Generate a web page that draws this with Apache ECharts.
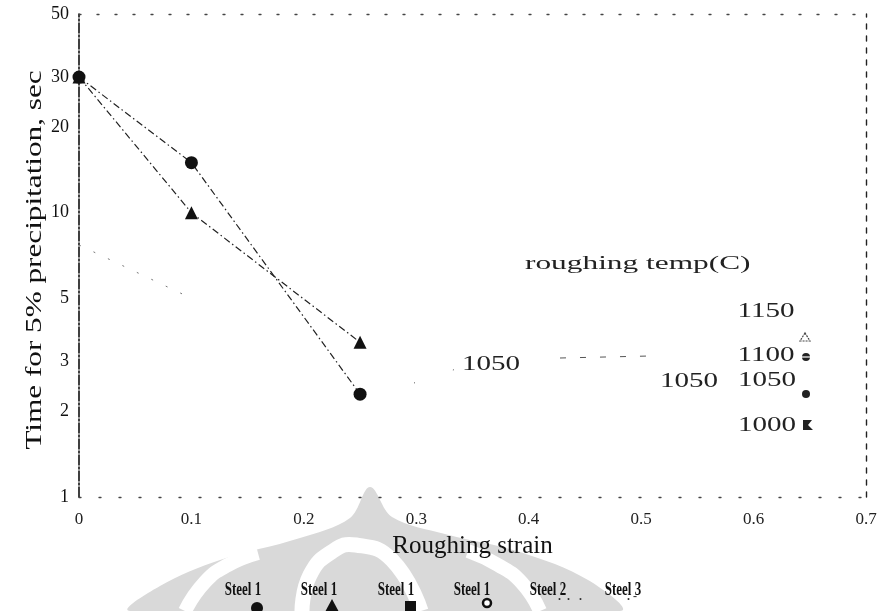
<!DOCTYPE html>
<html>
<head>
<meta charset="utf-8">
<script src="https://cdn.jsdelivr.net/npm/echarts@6/dist/echarts.min.js"></script>
<style>
html,body{margin:0;padding:0;background:#fff;}
#chart{width:882px;height:611px;}
</style>
</head>
<body>
<div id="chart"></div>
<script>
// ---- data ----
var xTicks = [0, 0.1, 0.2, 0.3, 0.4, 0.5, 0.6, 0.7];
var yTicks = [1, 2, 3, 5, 10, 20, 30, 50];
var strain = [0, 0.1, 0.25];
var circleTimes = [30, 15, 2.3];     // Steel 1, filled circle
var triangleTimes = [30, 10, 3.5];   // Steel 1, filled triangle
var faintStrain = [0, 0.1];
var faintTimes = [7.7, 5];
var legendNames = ['Steel 1', 'Steel 1', 'Steel 1', 'Steel 1', 'Steel 2', 'Steel 3'];
var yTitle = 'Time for 5% precipitation, sec';
var xTitle = 'Roughing strain';
var tempTitle = 'roughing temp(C)';
var tempLabels = ['1150', '1100', '1050', '1000'];

function pairs(xs, ys) { return xs.map(function (x, i) { return [x, ys[i]]; }); }

var FONT = '"Liberation Serif", "DejaVu Serif", serif';
var chart = echarts.init(document.getElementById('chart'));

var dashDot = [7, 3, 1.5, 3];

var legendX = [243, 319, 396, 472, 548, 623];
var graphics = [];

// watermark (light grey background logo)
graphics.push({
  type: 'polygon', z: -100, silent: true,
  shape: { smooth: 0.35, points: [[370, 487], [350, 518], [300, 538], [220, 560], [160, 586], [130, 611], [620, 611], [588, 580], [520, 552], [445, 534], [392, 517]] },
  style: { fill: '#d9d9d9' }
});
graphics.push({
  type: 'polyline', z: -99, silent: true,
  shape: { smooth: 0.5, points: [[302, 611], [310, 575], [333, 551], [356, 545], [392, 560], [421, 611]] },
  style: { fill: 'none', stroke: '#ffffff', lineWidth: 15 }
});
graphics.push({
  type: 'polyline', z: -99, silent: true,
  shape: { smooth: 0.5, points: [[185, 611], [205, 582], [228, 565], [258, 553]] },
  style: { fill: 'none', stroke: '#ffffff', lineWidth: 14 }
});
graphics.push({
  type: 'polyline', z: -99, silent: true,
  shape: { smooth: 0.5, points: [[540, 611], [522, 583], [498, 565], [468, 551]] },
  style: { fill: 'none', stroke: '#ffffff', lineWidth: 14 }
});

// y-axis title (stretched like the scanned original)
graphics.push({
  type: 'text', z: 10, x: 35, y: 260, rotation: Math.PI / 2, scaleX: 1.3,
  style: { text: yTitle, font: '24px ' + FONT, fill: '#111', align: 'center', verticalAlign: 'middle' }
});

// bottom legend texts
legendNames.forEach(function (n, i) {
  graphics.push({
    type: 'text', x: legendX[i], y: 590, z: 10, scaleX: 0.72,
    style: { text: n, font: 'bold 18px ' + FONT, fill: '#111', align: 'center', verticalAlign: 'middle' }
  });
});
// bottom legend markers
graphics.push({ type: 'circle', z: 10, shape: { cx: 257, cy: 608, r: 6 }, style: { fill: '#111' } });
graphics.push({ type: 'polygon', z: 10, shape: { points: [[332, 599], [325, 612], [339, 612]] }, style: { fill: '#111' } });
graphics.push({ type: 'rect', z: 10, shape: { x: 405, y: 601, width: 11, height: 12 }, style: { fill: '#111' } });
graphics.push({ type: 'circle', z: 10, shape: { cx: 487, cy: 603, r: 4 }, style: { fill: '#fff', stroke: '#111', lineWidth: 2.5 } });
graphics.push({ type: 'text', z: 10, x: 570, y: 597, style: { text: '.  .   .', font: 'bold 12px ' + FONT, fill: '#333', align: 'center', verticalAlign: 'middle' } });
graphics.push({ type: 'text', z: 10, x: 632, y: 597, style: { text: '. -', font: 'bold 12px ' + FONT, fill: '#333', align: 'center', verticalAlign: 'middle' } });

// right-side temperature annotations
function numText(t, x, y) {
  return { type: 'text', z: 10, x: x, y: y, scaleX: 1.32,
    style: { text: t, font: '22px ' + FONT, fill: '#222', align: 'center', verticalAlign: 'middle' } };
}
graphics.push({ type: 'text', z: 10, x: 525, y: 264, scaleX: 1.65, style: { text: tempTitle, font: '19px ' + FONT, fill: '#222', verticalAlign: 'middle' } });
graphics.push(numText(tempLabels[0], 766, 311));
graphics.push(numText(tempLabels[1], 766, 355));
graphics.push(numText(tempLabels[2], 767, 380));
graphics.push(numText('1050', 689, 381));
graphics.push(numText(tempLabels[3], 767, 425));
graphics.push(numText('1050', 491, 364));
// small markers next to temperatures
graphics.push({ type: 'polygon', z: 10, shape: { points: [[805, 333], [800, 341], [810, 341]] }, style: { fill: 'none', stroke: '#444', lineWidth: 1.2, lineDash: [2, 1] } });
graphics.push({ type: 'circle', z: 10, shape: { cx: 806, cy: 357, r: 4 }, style: { fill: '#222' } });
graphics.push({ type: 'line', z: 11, shape: { x1: 802, y1: 357, x2: 810, y2: 357 }, style: { stroke: '#fff', lineWidth: 1.2 } });
graphics.push({ type: 'circle', z: 10, shape: { cx: 806, cy: 394, r: 4 }, style: { fill: '#222' } });
graphics.push({ type: 'polygon', z: 10, shape: { points: [[803, 420], [812, 420], [808, 425], [813, 430], [803, 430]] }, style: { fill: '#222' } });
// faint dashes near the 1050 label
graphics.push({ type: 'line', z: 10, shape: { x1: 560, y1: 358, x2: 650, y2: 356 }, style: { stroke: '#555', lineWidth: 1, lineDash: [6, 14] } });
graphics.push({ type: 'line', z: 10, shape: { x1: 414, y1: 383, x2: 462, y2: 367 }, style: { stroke: '#555', lineWidth: 1, lineDash: [1, 40] } });

var option = {
  backgroundColor: '#ffffff',
  animation: false,
  textStyle: { fontFamily: FONT },
  grid: { left: 79, right: 16, top: 14, bottom: 114, containLabel: false },
  xAxis: [{
    type: 'value', min: xTicks[0], max: xTicks[xTicks.length - 1], interval: 0.1,
    name: xTitle, nameLocation: 'middle', nameGap: 37,
    nameTextStyle: { fontFamily: FONT, fontSize: 25, color: '#111' },
    axisLine: { show: true, onZero: false, lineStyle: { color: '#444', type: [2, 18], width: 1.3 } },
    axisTick: { show: false },
    splitLine: { show: false },
    axisLabel: { fontFamily: FONT, fontSize: 17, color: '#222', margin: 14,
      formatter: function (v) { return String(Math.round(v * 10) / 10); } }
  }, {
    type: 'value', position: 'top', min: xTicks[0], max: xTicks[xTicks.length - 1],
    axisLine: { show: true, onZero: false, lineStyle: { color: '#444', type: [2, 16], width: 1.3 } },
    axisTick: { show: false }, axisLabel: { show: false }, splitLine: { show: false }
  }],
  yAxis: [{
    type: 'log', logBase: 10, min: yTicks[0], max: yTicks[yTicks.length - 1],
    axisLine: { show: true, onZero: false, lineStyle: { color: '#111', type: [10, 2, 2, 2], width: 1.6 } },
    axisTick: { show: false },
    splitLine: { show: false },
    minorTick: { show: false },
    axisLabel: { fontFamily: FONT, fontSize: 18, color: '#111', margin: 10, customValues: yTicks,
      formatter: function (v) { return String(Math.round(v)); } }
  }, {
    type: 'log', logBase: 10, position: 'right', min: yTicks[0], max: yTicks[yTicks.length - 1],
    axisLine: { show: true, onZero: false, lineStyle: { color: '#222', type: [5, 7], width: 1.4 } },
    axisTick: { show: false }, axisLabel: { show: false }, splitLine: { show: false }
  }],
  series: [{
    name: 'Steel 1 (circle)', type: 'line', data: pairs(strain, circleTimes),
    symbol: 'circle', symbolSize: 13,
    itemStyle: { color: '#111' },
    lineStyle: { color: '#222', width: 1.2, type: dashDot }, z: 5
  }, {
    name: 'Steel 1 (triangle)', type: 'line', data: pairs(strain, triangleTimes),
    symbol: 'triangle', symbolSize: 13,
    itemStyle: { color: '#111' },
    lineStyle: { color: '#222', width: 1.2, type: dashDot }, z: 5
  }, {
    name: 'faint', type: 'line', data: pairs(faintStrain, faintTimes),
    symbol: 'none', silent: true,
    lineStyle: { color: '#777', width: 1, type: [2, 14] }, z: 4
  }],
  graphic: { elements: graphics }
};
chart.setOption(option);
</script>
</body>
</html>
